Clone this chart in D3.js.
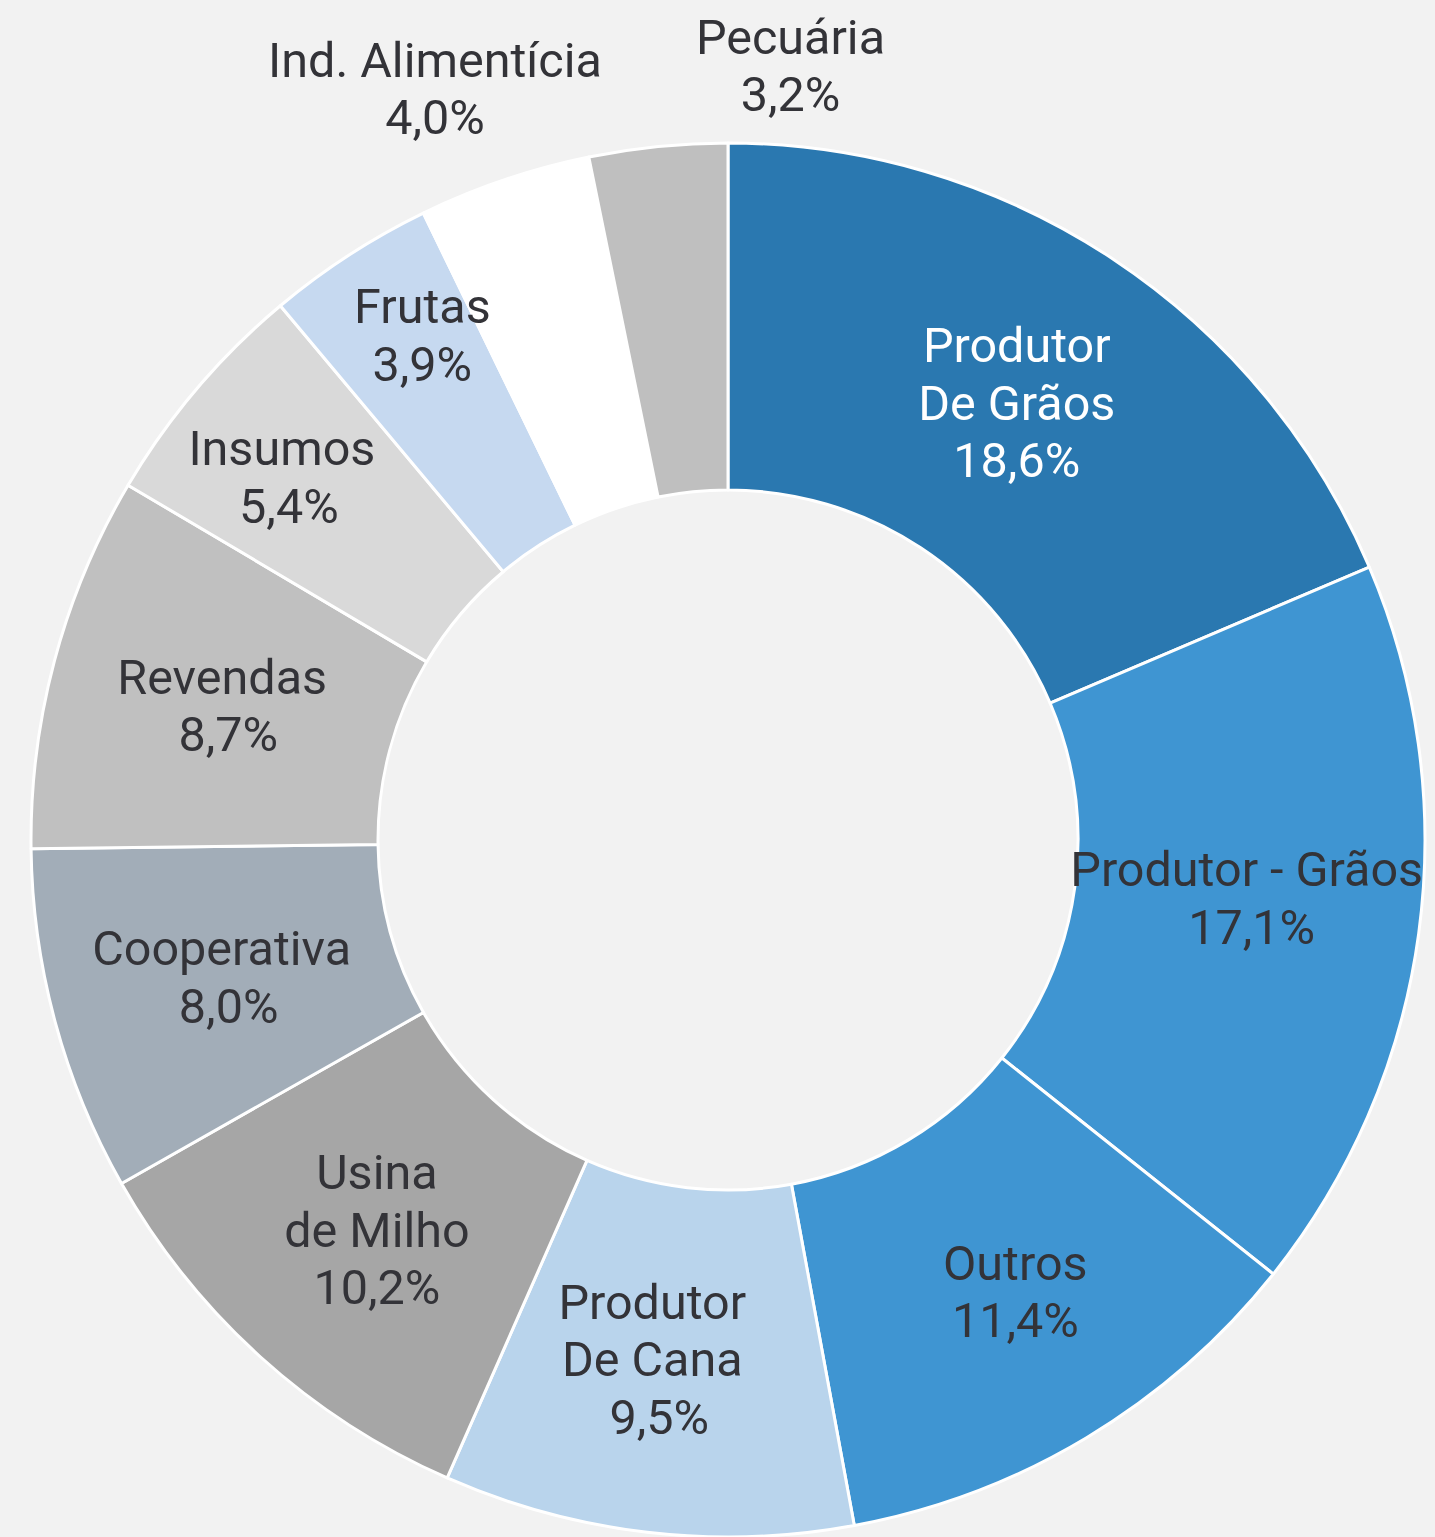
<!DOCTYPE html>
<html><head><meta charset="utf-8">
<script src="https://cdn.jsdelivr.net/npm/d3@7"></script>
<style>html,body{margin:0;padding:0;background:#f2f2f2;}svg{display:block;}</style>
</head><body>
<svg id="chart" width="1435" height="1537"></svg>
<script>
const categories = ["Produtor\nDe Grãos","Produtor - Grãos","Outros","Produtor\nDe Cana","Usina\nde Milho","Cooperativa","Revendas","Insumos","Frutas","Ind. Alimentícia","Pecuária"];
const values = [18.6,17.1,11.4,9.5,10.2,8.0,8.7,5.4,3.9,4.0,3.2];
const colors = ["#2a78b0","#3f95d2","#3f95d2","#b9d4ec","#a6a6a6","#a2adb8","#c0c0c0","#d9d9d9","#c6d9f0","#ffffff","#bfbfbf"];
const labelColors = ["#ffffff","#333338","#333338","#333338","#333338","#333338","#333338","#333338","#333338","#333338","#333338"];
// label nudges relative to ring centroid (layout only)
const labelOffsets = [[0,0],[0,-12],[18,3],[-15,0],[0,2],[-1,1],[0,1],[-47,-24],[-21,-65],[-125,-255],[115,-253]];
const pctShift = [0,5,0,7,0,7,6,7,0,0,0];

const svg = d3.select("#chart");
const cx = 728, cy = 840, R = 697, r = 350;
const g = svg.append("g").attr("transform", `translate(${cx},${cy})`);
const pie = d3.pie().sort(null).value(d => d.v).startAngle(0).endAngle(2*Math.PI);
const data = categories.map((c,i) => ({c, v: values[i], i}));
const arcs = pie(data);
const arc = d3.arc().innerRadius(r).outerRadius(R);
const labelArc = d3.arc().innerRadius(r).outerRadius(R);

g.selectAll("path").data(arcs).enter().append("path")
  .attr("d", arc)
  .attr("fill", d => colors[d.data.i])
  .attr("stroke", "#ffffff")
  .attr("stroke-width", 3)
  .attr("stroke-linejoin", "round");

const fmt = v => v.toFixed(1).replace(".", ",") + "%";
const LH = 57.5;
arcs.forEach(d => {
  const [x0,y0] = labelArc.centroid(d);
  const off = labelOffsets[d.data.i];
  const x = x0 + off[0], y = y0 + off[1];
  const lines = d.data.c.split("\n").concat([fmt(d.data.v)]);
  const t = g.append("text")
    .attr("text-anchor","middle")
    .attr("font-family","Roboto, sans-serif")
    .attr("font-size", 48.5)
    .attr("fill", labelColors[d.data.i]);
  lines.forEach((ln, k) => {
    const isPct = k === lines.length - 1;
    t.append("tspan").attr("x", x + (isPct ? pctShift[d.data.i] : 0))
      .attr("y", y + (k - (lines.length-1)/2)*LH)
      .attr("dominant-baseline","central")
      .text(ln);
  });
});
</script>
</body></html>
